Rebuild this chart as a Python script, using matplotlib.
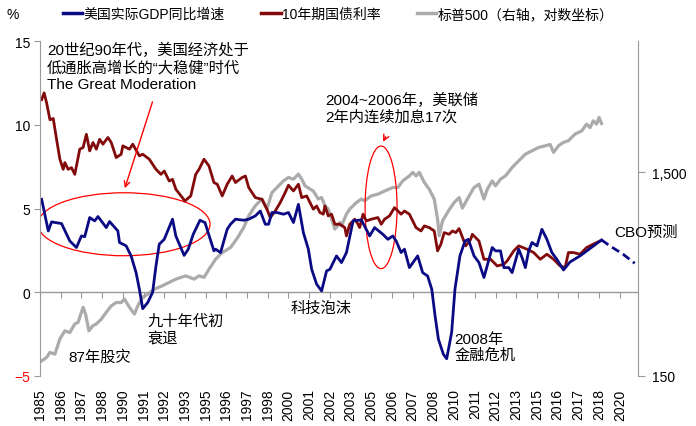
import numpy as np
import matplotlib
matplotlib.use('Agg')
import matplotlib.pyplot as plt
from matplotlib.patches import Ellipse
from matplotlib.ticker import FixedLocator, FuncFormatter

plt.rcParams['font.family'] = ['Liberation Sans', 'Noto Sans CJK SC', 'DejaVu Sans']
plt.rcParams['font.size'] = 10

# 美国实际GDP同比增速 (%)
gdp_year = [1985.1, 1985.5, 1985.7, 1986.3, 1986.8, 1987.2, 1987.5, 1987.7, 1988.0, 1988.3,
            1988.5, 1989.0, 1989.2, 1989.7, 1989.8, 1990.2, 1990.5, 1990.8, 1991.0, 1991.2,
            1991.5, 1991.8, 1992.0, 1992.2, 1992.5, 1993.0, 1993.2, 1993.7, 1993.95, 1994.25,
            1994.66, 1994.96, 1995.5, 1995.6, 1995.9, 1996.3, 1996.5, 1996.8, 1997.3, 1997.6,
            1998.0, 1998.3, 1998.6, 1998.8, 1999.0, 1999.3, 1999.7, 2000.0, 2000.3, 2000.6,
            2000.9, 2001.2, 2001.4, 2001.7, 2002.0, 2002.3, 2002.5, 2002.9, 2003.2, 2003.5,
            2003.9, 2004.4, 2004.9, 2005.2, 2005.7, 2006.0, 2006.3, 2006.5, 2006.8, 2007.0,
            2007.3, 2007.8, 2008.1, 2008.4, 2008.65, 2008.85, 2009.05, 2009.35, 2009.55, 2009.85,
            2010.05, 2010.35, 2010.66, 2010.86, 2011.2, 2011.5, 2011.8, 2012.3, 2012.5, 2012.8,
            2013.0, 2013.3, 2013.5, 2013.9, 2014.1, 2014.3, 2014.5, 2014.7, 2015.0, 2015.3,
            2015.6, 2015.9, 2016.2, 2016.6, 2017.0, 2017.6, 2018.2, 2018.9]
gdp = [5.55, 3.66, 4.2, 4.1, 3.06, 2.67, 3.36, 3.32, 4.46, 4.26,
       4.52, 3.86, 4.22, 3.66, 2.97, 2.77, 2.17, 1.17, 0.18, -0.98,
       -0.62, 0.0, 1.57, 2.87, 3.16, 4.36, 3.36, 2.2, 2.57, 3.46,
       4.3, 4.16, 2.47, 2.57, 2.37, 3.76, 4.06, 4.36, 4.3, 4.36,
       4.56, 4.85, 4.06, 4.06, 4.76, 4.76, 4.66, 4.76, 4.16, 5.25,
       3.56, 2.57, 1.37, 0.48, 0.08, 1.27, 1.37, 2.17, 1.77, 2.37,
       4.26, 4.32, 3.36, 3.86, 3.46, 3.16, 3.36, 3.06, 2.37, 2.57,
       1.47, 2.17, 1.17, 0.97, 0.18, -1.41, -2.8, -3.7, -3.97, -2.4,
       0.18, 2.17, 3.06, 3.16, 2.17, 1.77, 0.88, 2.67, 2.47, 2.47,
       1.47, 1.47, 1.17, 2.57, 2.07, 1.47, 2.47, 2.97, 2.77, 3.76,
       3.16, 2.37, 1.97, 1.33, 1.81, 2.17, 2.61, 3.12]

# CBO预测
cbo_year = [2018.9, 2019.4, 2020.2, 2020.9]
cbo = [3.12, 2.77, 2.27, 1.73]

# 10年期国债利率 (%)
ty_year = [1985.1, 1985.25, 1985.4, 1985.6, 1985.8, 1986.0, 1986.2, 1986.4, 1986.5, 1986.7,
           1986.9, 1987.1, 1987.4, 1987.6, 1987.8, 1988.0, 1988.2, 1988.4, 1988.6, 1988.8,
           1989.1, 1989.3, 1989.6, 1989.9, 1990.0, 1990.4, 1990.6, 1991.0, 1991.2, 1991.6,
           1992.0, 1992.3, 1992.5, 1992.8, 1993.0, 1993.2, 1993.75, 1994.1, 1994.4, 1994.6,
           1994.9, 1995.2, 1995.5, 1995.7, 1996.0, 1996.3, 1996.6, 1996.8, 1997.2, 1997.4,
           1997.6, 1998.0, 1998.4, 1998.7, 1998.9, 1999.2, 1999.5, 1999.8, 2000.0, 2000.3,
           2000.6, 2000.8, 2001.1, 2001.5, 2001.7, 2001.9, 2002.1, 2002.2, 2002.4, 2002.6,
           2002.8, 2003.1, 2003.4, 2003.5, 2003.7, 2004.0, 2004.2, 2004.3, 2004.5, 2004.7,
           2005.0, 2005.4, 2005.6, 2005.8, 2006.1, 2006.4, 2006.7, 2006.8, 2007.0, 2007.3,
           2007.7, 2008.0, 2008.2, 2008.5, 2008.8, 2009.0, 2009.2, 2009.4, 2009.7, 2009.9,
           2010.1, 2010.3, 2010.7, 2011.0, 2011.1, 2011.5, 2011.8, 2012.2, 2012.6, 2013.0,
           2013.2, 2013.6, 2013.9, 2014.4, 2014.8, 2015.2, 2015.6, 2016.0, 2016.4, 2016.7,
           2016.9, 2017.2, 2017.6, 2018.0, 2018.4, 2018.8]
ty = [11.5, 11.9, 11.3, 10.3, 10.37, 9.13, 7.94, 7.34, 7.74, 7.34,
      7.44, 7.04, 8.54, 8.64, 9.43, 8.44, 8.94, 8.54, 9.13, 8.84,
      9.24, 8.94, 8.04, 8.24, 8.74, 8.54, 8.84, 8.14, 8.24, 7.94,
      7.34, 7.04, 7.24, 6.64, 6.74, 6.15, 5.45, 5.75, 7.04, 7.34,
      7.94, 7.54, 6.55, 6.45, 5.75, 6.45, 6.94, 6.55, 6.85, 6.94,
      6.25, 5.65, 5.55, 4.96, 4.46, 4.85, 5.35, 5.95, 6.39, 6.05,
      6.45, 5.65, 5.75, 4.96, 5.15, 4.76, 4.66, 5.15, 4.56, 4.66,
      4.06, 4.06, 3.86, 3.36, 4.06, 4.36, 4.06, 3.86, 4.66, 4.26,
      4.36, 4.46, 4.06, 4.36, 4.56, 5.05, 4.76, 4.66, 4.85, 4.66,
      3.86, 3.66, 3.96, 3.86, 3.66, 2.47, 2.87, 3.56, 3.46, 3.66,
      3.56, 3.8, 2.77, 3.16, 3.46, 3.06, 1.97, 1.97, 1.57, 1.67,
      1.87, 2.47, 2.77, 2.57, 2.37, 1.97, 2.27, 1.97, 1.57, 1.47,
      2.37, 2.37, 2.27, 2.67, 2.87, 3.06]

# 标普500 (右轴, 对数坐标)
sp_year = [1985.1, 1985.4, 1985.6, 1985.9, 1986.2, 1986.5, 1986.8, 1987.1, 1987.3, 1987.6,
           1987.75, 1987.95, 1988.2, 1988.4, 1988.7, 1989.0, 1989.3, 1989.6, 1989.9, 1990.1,
           1990.4, 1990.7, 1990.9, 1991.2, 1991.5, 1991.9, 1992.4, 1992.8, 1993.2, 1993.8,
           1994.3, 1994.6, 1994.9, 1995.2, 1995.6, 1996.0, 1996.5, 1996.9, 1997.3, 1997.6,
           1998.0, 1998.4, 1998.7, 1999.0, 1999.4, 1999.7, 2000.0, 2000.3, 2000.6, 2000.8,
           2001.0, 2001.5, 2001.8, 2002.0, 2002.2, 2002.4, 2002.6, 2002.8, 2003.1, 2003.2,
           2003.5, 2003.7, 2004.1, 2004.4, 2004.6, 2005.0, 2005.4, 2005.8, 2006.3, 2006.6,
           2006.9, 2007.3, 2007.5, 2007.7, 2007.9, 2008.2, 2008.5, 2008.8, 2009.0, 2009.1,
           2009.3, 2009.7, 2010.0, 2010.3, 2010.5, 2010.8, 2011.2, 2011.5, 2011.8, 2012.0,
           2012.3, 2012.5, 2012.8, 2013.1, 2013.5, 2013.9, 2014.3, 2014.7, 2015.1, 2015.5,
           2015.8, 2016.0, 2016.3, 2016.6, 2016.9, 2017.3, 2017.7, 2018.0, 2018.2, 2018.4,
           2018.6, 2018.75, 2018.9]
sp = [178, 185, 196, 192, 228, 250, 245, 270, 275, 326,
      302, 250, 265, 270, 285, 308, 331, 344, 344, 357,
      326, 302, 331, 365, 378, 400, 416, 432, 448, 465,
      448, 465, 457, 501, 561, 605, 640, 710, 803, 916,
      1027, 1107, 989, 1191, 1285, 1360, 1413, 1386, 1467, 1386,
      1285, 1212, 1107, 1126, 1027, 989, 883, 788, 850, 818,
      934, 989, 1064, 1107, 1086, 1148, 1170, 1212, 1261, 1261,
      1360, 1439, 1496, 1439, 1496, 1335, 1237, 1107, 883, 731,
      866, 980, 1064, 1126, 1000, 1107, 1261, 1310, 1107, 1237,
      1360, 1285, 1386, 1439, 1581, 1705, 1838, 1909, 1983, 2020,
      2050, 1875, 2020, 2100, 2140, 2307, 2390, 2581, 2480, 2680,
      2581, 2785, 2600]

tick_years = [1985 + 1.25 * k for k in range(29)]

blue = '#0a0a84'
red = '#820a0a'
grey = '#ababab'
axis_grey = '#9a9a9a'

fig = plt.figure(figsize=(6.96, 4.27), dpi=100)
ax = fig.add_axes([40 / 696, 1 - 377 / 427, 598 / 696, 335 / 427])
ax2 = ax.twinx()
ax.set_zorder(ax2.get_zorder() + 1)
ax.patch.set_visible(False)

ax2.plot(sp_year, sp, color=grey, lw=2.3, solid_joinstyle='round')
ax.plot(ty_year, ty, color=red, lw=2.0, solid_joinstyle='round')
ax.plot(gdp_year, gdp, color=blue, lw=2.0, solid_joinstyle='round')
ax.plot(cbo_year, cbo, color=blue, lw=2.0, ls=(0, (3, 1.6)))

ax.set_xlim(1985, 2021.1)
ax.set_ylim(-5, 15)
ax.set_yticks([-5, 0, 5, 10, 15])
ax2.set_yscale('log')
ax2.set_ylim(150, 6600)
ax2.yaxis.set_major_locator(FixedLocator([150, 1500]))
ax2.yaxis.set_minor_locator(FixedLocator([]))
ax2.yaxis.set_major_formatter(FuncFormatter(lambda v, p: f'{v:,.0f}'))

for a in (ax, ax2):
    a.spines['top'].set_visible(False)
    a.spines['bottom'].set_visible(False)
ax.spines['right'].set_visible(False)
ax2.spines['left'].set_visible(False)
ax.spines['left'].set_color(axis_grey)
ax2.spines['right'].set_color(axis_grey)
ax.tick_params(axis='y', length=4, color=axis_grey, labelsize=10, pad=3)
ax2.tick_params(axis='y', length=5, color=axis_grey, labelsize=10, pad=5)
ax.get_yticklabels()[0].set_color('red')

# zero line with tick marks
ax.axhline(0, color=axis_grey, lw=1.0, zorder=1)
ax.set_xticks(tick_years)
ax.tick_params(axis='x', length=0, labelbottom=False)
zero_axis = ax.secondary_xaxis(0.25)
zero_axis.set_xticks(tick_years)
zero_axis.tick_params(axis='x', length=4, color=axis_grey, labelbottom=False)
zero_axis.spines['bottom'].set_visible(False)
lab_axis = ax.secondary_xaxis('bottom')
lab_axis.set_xticks(tick_years)
lab_axis.set_xticklabels([str(int(t)) for t in tick_years], rotation=90)
lab_axis.tick_params(axis='x', length=0, pad=9, labelsize=10)
lab_axis.spines['bottom'].set_visible(False)

# annotations
fs = 11
ax.text(1985.42, 14.95, '20世纪90年代，美国经济处于\n低通胀高增长的“大稳健”时代\nThe Great Moderation',
        va='top', ha='left', fontsize=fs, linespacing=1.25)
ax.annotate('', xy=(1990.07, 6.05), xytext=(1991.84, 11.52),
            arrowprops=dict(arrowstyle='->', color='red', lw=1.0))
ax.add_patch(Ellipse((1990.07, 4.06), 10.39, 3.76, fill=False, ec='red', lw=0.9))

ax.text(2002.2, 12.0, '2004~2006年，美联储\n2年内连续加息17次',
        va='top', ha='left', fontsize=fs, linespacing=1.25)
ax.annotate('', xy=(2005.63, 8.84), xytext=(2005.94, 9.43),
            arrowprops=dict(arrowstyle='->', color='red', lw=1.0))
ax.add_patch(Ellipse((2005.59, 5.07), 1.93, 7.32, fill=False, ec='red', lw=0.9))

ax.text(1991.46, -2.2, '九十年代初\n衰退', va='center', ha='left', fontsize=fs, linespacing=1.3)
ax.text(1986.69, -3.82, '87年股灾', va='center', ha='left', fontsize=fs)
ax.text(2000.1, -0.96, '科技泡沫', va='center', ha='left', fontsize=fs)
ax.text(2010.0, -3.28, '2008年\n金融危机', va='center', ha='left', fontsize=fs, linespacing=1.15)
ax.text(2019.66, 3.58, 'CBO预测', va='center', ha='left', fontsize=fs)

fig.text(13 / 696, 1 - 15 / 427, '%', ha='center', va='center', fontsize=10)

handles = [plt.Line2D([], [], color=blue, lw=2.5),
           plt.Line2D([], [], color=red, lw=2.5),
           plt.Line2D([], [], color=grey, lw=2.5)]
labels = ['美国实际GDP同比增速', '10年期国债利率', '标普500（右轴，对数坐标）']
fig.legend(handles, labels, loc='center left', bbox_to_anchor=(63 / 696, 1 - 15 / 427),
           ncol=3, frameon=False, fontsize=10, handlelength=1.4, handletextpad=0.1,
           columnspacing=2.6, borderpad=0, borderaxespad=0)

fig.savefig('out.png', dpi=100)
